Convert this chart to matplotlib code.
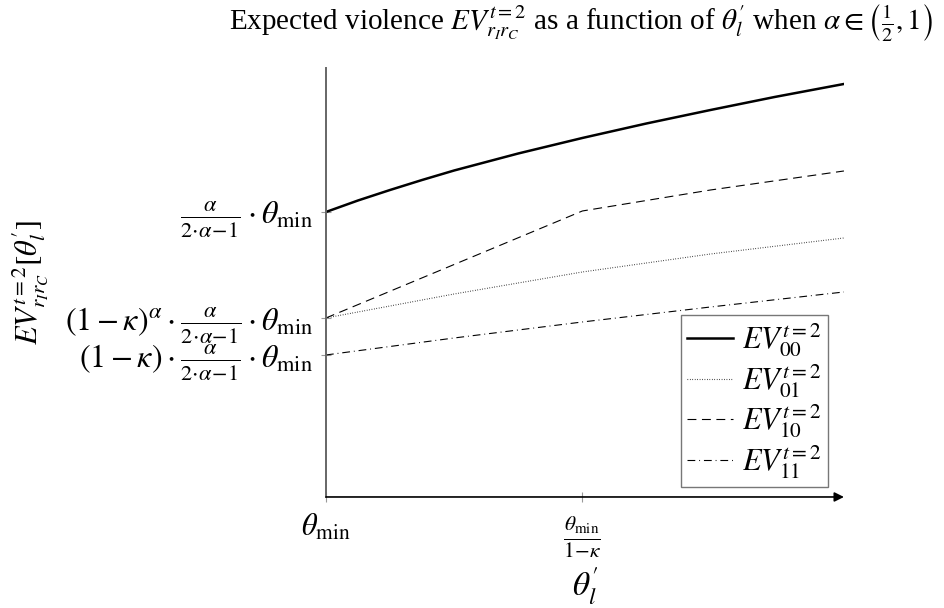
import matplotlib.pyplot as plt

plt.rcParams['font.family'] = ['Liberation Serif', 'DejaVu Serif']
plt.rcParams['mathtext.fontset'] = 'stix'

# theta_l' positions (theta_min = 1, theta_min / (1 - kappa) = 2)
x_ticks = [1.0, 2.0]
x_tick_labels = [r'$\theta_{\mathrm{min}}$', r'$\frac{\theta_{\mathrm{min}}}{1\!-\!\kappa}$']
x_end = 3.02

# expected violence levels at theta_min
frac = r'\frac{\alpha}{2\!\cdot\!\alpha\!-\!1}'
y_ticks = [1.42, 1.79, 2.85]
y_tick_labels = [
    r'$(1-\kappa)\cdot' + frac + r'\cdot\theta_{\mathrm{min}}$',
    r'$(1-\kappa)^{\alpha}\cdot' + frac + r'\cdot\theta_{\mathrm{min}}$',
    r'$' + frac + r'\cdot\theta_{\mathrm{min}}$',
]

# curves
x_00 = [1.0, 1.125, 1.25, 1.375, 1.5, 1.75, 2.0, 2.25, 2.5, 2.75, 3.02]
ev_00 = [2.85, 2.965, 3.07, 3.17, 3.265, 3.435, 3.59, 3.735, 3.87, 4.00, 4.13]
x_01 = [1.0, 1.5, 2.0, 2.5, 3.02]
ev_01 = [1.79, 2.03, 2.25, 2.43, 2.59]
x_10 = [1.0, 2.0, 2.5, 3.02]
ev_10 = [1.79, 2.86, 3.07, 3.26]
x_11 = [1.0, 1.5, 2.0, 2.5, 3.02]
ev_11 = [1.42, 1.59, 1.75, 1.90, 2.05]

fig = plt.figure(figsize=(9.44, 6.08), dpi=100)
ax = fig.add_axes([0.3453, 0.1826, 0.5487, 0.7056])

ax.plot(x_00, ev_00, color='black', lw=1.8, label=r'$EV^{t=2}_{00}$')
ax.plot(x_01, ev_01, color='black', lw=0.8, linestyle=(0, (0.6, 1.6)), label=r'$EV^{t=2}_{01}$')
ax.plot(x_10, ev_10, color='black', lw=0.8, linestyle=(0, (8, 5)), label=r'$EV^{t=2}_{10}$')
ax.plot(x_11, ev_11, color='black', lw=0.8, linestyle=(0, (7, 3.5, 0.8, 3.5)), label=r'$EV^{t=2}_{11}$')

ax.set_xlim(1.0, x_end)
ax.set_ylim(0, 4.29)

for s in ['top', 'right']:
    ax.spines[s].set_visible(False)
ax.spines['left'].set_color('#666666')
ax.spines['left'].set_linewidth(1.4)
ax.spines['bottom'].set_visible(False)
ax.annotate('', xy=(x_end, 0), xytext=(1.0, 0), xycoords='data',
            arrowprops=dict(arrowstyle='-|>', color='black', lw=1.2,
                            mutation_scale=14, shrinkA=0, shrinkB=0),
            annotation_clip=False)

ax.set_xticks(x_ticks)
ax.set_xticklabels(x_tick_labels, fontsize=22)
ax.set_yticks(y_ticks)
ax.set_yticklabels(y_tick_labels, fontsize=23)
ax.tick_params(axis='both', direction='inout', length=7, width=0.8, color='#999999')
ax.tick_params(axis='x', pad=8)
ax.tick_params(axis='y', pad=6)

ax.set_xlabel(r"$\theta_l^{\prime}$", fontsize=24, labelpad=4)
ax.set_ylabel(r"$EV^{t=2}_{r_I r_C}[\theta_l^{\prime}]$", fontsize=22, labelpad=10)

ax.set_title(r"Expected violence $EV^{t=2}_{r_I r_C}$ as a function of $\theta_l^{\prime}$ when "
             r"$\alpha\in\left(\frac{1}{2},1\right)$", fontsize=21, pad=28, x=0.492)

leg = ax.legend(loc='lower right', fontsize=22, frameon=True, fancybox=False,
                handlelength=1.5, handletextpad=0.3, labelspacing=0.1,
                borderpad=0.2, borderaxespad=0, bbox_to_anchor=(0.969, 0.023))
leg.get_frame().set_edgecolor('#555555')
leg.get_frame().set_linewidth(1.0)

fig.savefig('out.png', dpi=100)
